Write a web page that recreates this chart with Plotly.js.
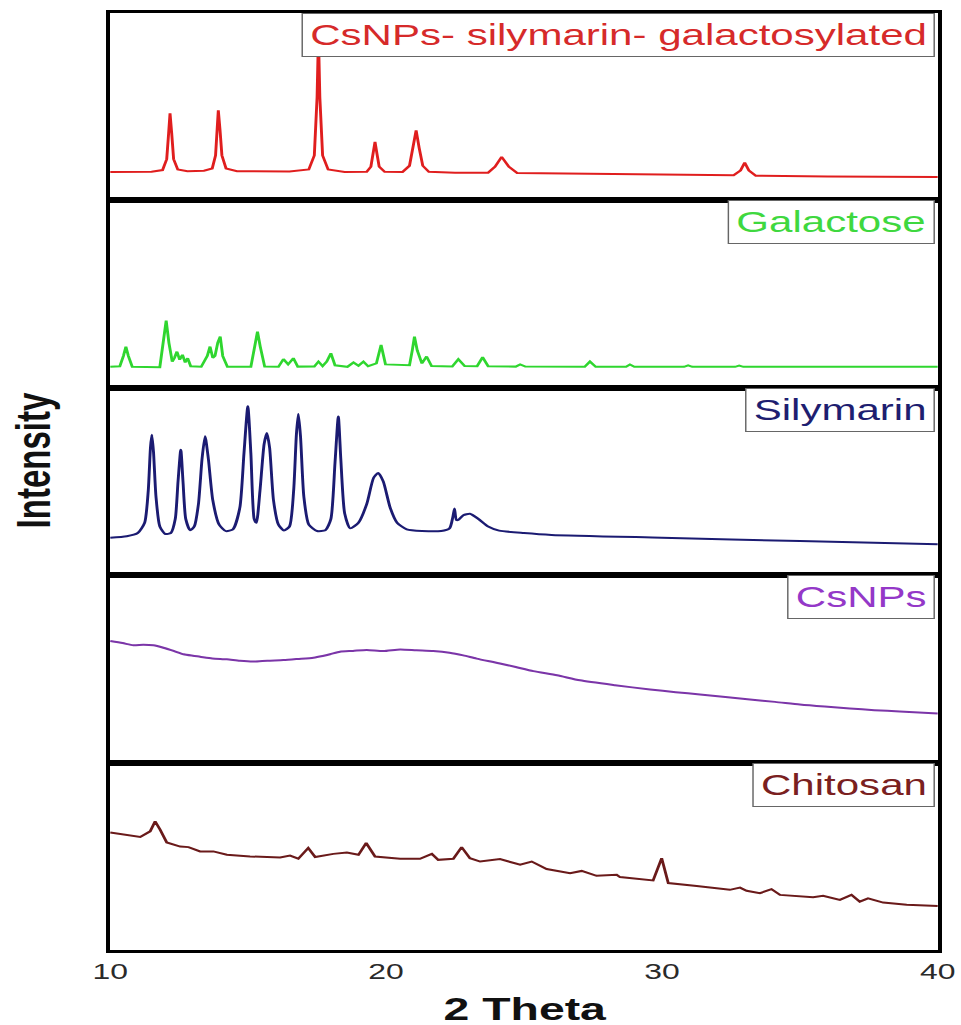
<!DOCTYPE html>
<html>
<head>
<meta charset="utf-8">
<script src="https://cdn.plot.ly/plotly-3.0.1.min.js"></script>
<style>
  html, body { margin: 0; padding: 0; background: #fff; }
  #wrap { width: 961px; height: 1025px; overflow: hidden; }
  #plot { width: 663px; height: 1025px; transform: scaleX(1.4495); transform-origin: 0 0; }
</style>
</head>
<body>
<div id="wrap"><div id="plot"></div></div>
<script>
// Sample names (labels of the panels, top to bottom)
const sampleNames = ["CsNPs- silymarin- galactosylated", "Galactose", "Silymarin", "CsNPs", "Chitosan"];
const tickValues = [10, 20, 30, 40];
const tickLabels = ["10", "20", "30", "40"];

// CsNPs- silymarin- galactosylated (2θ, intensity a.u.)
const galSilX = [10.0, 11.5, 11.9, 12.05, 12.12, 12.17, 12.23, 12.3, 12.45, 12.8, 13.4, 13.7, 13.82, 13.87, 13.92, 13.98, 14.05, 14.2, 14.6, 16.5, 17.2, 17.4, 17.5, 17.55, 17.6, 17.7, 17.9, 18.5, 19.3, 19.45, 19.53, 19.6, 19.67, 19.75, 19.95, 20.6, 20.85, 20.98, 21.09, 21.2, 21.33, 21.55, 22.5, 23.7, 23.95, 24.19, 24.45, 24.75, 27.0, 30.0, 32.6, 32.85, 33.0, 33.15, 33.4, 36.0, 40.0];
const galSilY = [15.1, 15.3, 16.2, 22, 36, 46.5, 36, 22, 16.5, 15.6, 15.8, 17, 24, 38, 48.1, 38, 24, 17, 15.6, 15.4, 16.5, 24, 55, 88, 55, 24, 16.5, 15.2, 15.3, 18, 25, 31.2, 25, 18, 15.3, 15.2, 18.5, 28, 37.4, 28, 18.5, 15.3, 14.8, 14.8, 18, 23.2, 18, 14.6, 14.3, 13.6, 13.4, 16, 20.2, 16, 13.2, 12.8, 12.5];

// Galactose
const galactoseX = [10.0, 10.35, 10.48, 10.57, 10.66, 10.8, 11.8, 11.93, 12.03, 12.13, 12.25, 12.33, 12.42, 12.52, 12.62, 12.72, 12.81, 12.92, 13.3, 13.52, 13.62, 13.72, 13.8, 13.9, 13.99, 14.08, 14.25, 15.1, 15.24, 15.34, 15.44, 15.6, 16.1, 16.28, 16.45, 16.64, 16.8, 17.4, 17.55, 17.7, 17.85, 18.0, 18.15, 18.6, 18.82, 19.0, 19.18, 19.35, 19.65, 19.82, 19.98, 20.85, 20.95, 21.03, 21.13, 21.3, 21.47, 21.65, 22.4, 22.62, 22.85, 23.3, 23.5, 23.7, 24.7, 24.86, 25.05, 27.2, 27.39, 27.6, 28.7, 28.84, 29.0, 30.8, 30.95, 31.1, 32.65, 32.8, 32.95, 36.0, 40.0];
const galactoseY = [11.2, 11.5, 17, 22.0, 17, 11.2, 11.0, 24, 35.8, 24, 14, 16, 19.3, 15, 17.6, 13.5, 15.8, 11.5, 11.2, 17, 22.0, 16, 17, 24, 27.3, 17, 11.2, 11.2, 22, 30.0, 22, 11.3, 11.2, 15.3, 12.5, 15.8, 11.3, 11.4, 14.0, 11.6, 14, 18.4, 12, 11.2, 13.5, 11.8, 14.0, 11.5, 13, 22.9, 12.5, 12, 20, 27.3, 20, 13, 16.7, 11.6, 11.4, 15.3, 11.6, 11.5, 16.3, 11.5, 11.3, 12.5, 11.3, 11.2, 14.0, 11.2, 11.2, 12.4, 11.2, 11.2, 12.0, 11.2, 11.2, 11.8, 11.2, 11.2, 11.2];

// Silymarin
const silymarinX = [10.0, 10.6, 11.0, 11.25, 11.38, 11.46, 11.51, 11.57, 11.66, 11.8, 12.0, 12.2, 12.36, 12.46, 12.56, 12.64, 12.74, 12.9, 13.05, 13.2, 13.33, 13.44, 13.56, 13.72, 13.95, 14.2, 14.45, 14.7, 14.85, 14.99, 15.1, 15.22, 15.3, 15.43, 15.58, 15.68, 15.78, 15.92, 16.1, 16.3, 16.5, 16.65, 16.75, 16.82, 16.9, 17.02, 17.2, 17.5, 17.8, 18.0, 18.15, 18.27, 18.36, 18.5, 18.7, 19.0, 19.3, 19.55, 19.72, 19.9, 20.15, 20.4, 20.75, 21.3, 22.0, 22.3, 22.42, 22.48, 22.55, 22.62, 22.8, 23.04, 23.35, 23.7, 24.1, 25.0, 26.0, 30.0, 35.0, 40.0];
const silymarinY = [20.0, 20.8, 22.5, 28, 45, 68, 75.0, 66, 42, 26, 22, 22.5, 30, 50, 67.0, 50, 30, 24, 26, 38, 62, 74.1, 62, 40, 27, 23.5, 24.5, 36, 65, 90.1, 65, 30, 28, 45, 70, 75.9, 68, 40, 27, 23.9, 26, 45, 75, 86.0, 74, 42, 27, 23.6, 24, 30, 60, 84.7, 62, 33, 25, 28, 38, 52, 54.6, 50, 36, 28, 24.5, 23.6, 23.6, 25, 31, 35.6, 29.5, 29.5, 32, 32.8, 30, 26, 23.8, 22.5, 21.5, 20.0, 18.2, 16.5];

// CsNPs
const csnpsX = [10.0, 10.45, 10.84, 11.2, 11.57, 11.93, 12.3, 12.66, 13.0, 13.26, 13.7, 14.23, 14.7, 15.19, 15.7, 16.28, 16.8, 17.37, 17.7, 17.97, 18.33, 18.8, 19.3, 19.9, 20.51, 21.1, 21.71, 22.3, 22.8, 23.28, 24.13, 24.7, 25.34, 26.2, 27.03, 28.3, 29.57, 30.5, 31.38, 32.3, 33.19, 34.1, 35.0, 35.9, 36.81, 37.7, 38.62, 40.0];
const csnpsY = [64.9, 63.8, 62.6, 62.9, 62.6, 61.3, 59.6, 57.8, 57.0, 56.5, 55.6, 55.1, 54.3, 53.9, 54.4, 54.7, 55.3, 56.0, 56.9, 57.8, 59.2, 59.6, 60.1, 59.5, 60.4, 59.9, 59.5, 58.6, 57.2, 55.5, 52.9, 51.0, 48.8, 46.6, 43.9, 41.3, 39.0, 37.6, 36.4, 35.0, 33.7, 32.4, 31.0, 29.9, 28.9, 28.0, 27.3, 26.2];

// Chitosan
const chitosanX = [10.0, 10.61, 11.09, 11.45, 11.63, 11.81, 12.05, 12.54, 12.84, 13.26, 13.74, 14.23, 15.07, 16.16, 16.52, 16.82, 17.18, 17.43, 18.09, 18.58, 19.0, 19.28, 19.6, 20.51, 21.23, 21.66, 21.89, 22.44, 22.74, 23.04, 23.41, 24.13, 24.86, 25.28, 25.82, 26.67, 27.09, 27.63, 28.36, 28.48, 29.68, 29.99, 30.23, 31.26, 32.46, 32.83, 33.07, 33.55, 33.97, 34.28, 35.48, 35.84, 36.45, 36.87, 37.17, 37.47, 38.02, 38.87, 40.0];
const chitosanY = [62.7, 61.5, 60.3, 63.3, 68.6, 64.2, 57.4, 55.2, 54.9, 52.6, 52.6, 50.8, 49.9, 49.4, 50.4, 48.7, 54.4, 49.6, 51.3, 52.0, 50.8, 57.1, 49.9, 48.7, 48.7, 51.3, 48.1, 48.7, 54.9, 49.0, 47.2, 48.5, 45.5, 47.2, 43.2, 41.0, 42.2, 39.6, 40.1, 38.9, 37.1, 49.0, 35.7, 34.2, 32.1, 33.3, 31.6, 30.3, 32.5, 29.4, 28.2, 28.9, 26.7, 29.4, 25.8, 27.6, 25.3, 24.1, 23.5];

const lineColors = ["#e01e1e", "#2fd62f", "#1b1b72", "#7b35a8", "#6a1a1a"];
const textColors = ["#d62a2a", "#3fd83f", "#1e1e70", "#9438c8", "#7a2020"];
const lineShapes = ["linear", "linear", "spline", "spline", "linear"];

const seriesX = [galSilX, galactoseX, silymarinX, csnpsX, chitosanX];
const seriesY = [galSilY, galactoseY, silymarinY, csnpsY, chitosanY];

const traces = [];
const layout = {
  width: 663, height: 1025,
  margin: {l: 76, r: 16, t: 13, b: 75},
  paper_bgcolor: "#ffffff", plot_bgcolor: "#ffffff",
  showlegend: false,
  font: {family: "Liberation Sans, Arial, sans-serif", color: "#222"},
  annotations: []
};
const nP = 5;
for (let p = 0; p < nP; p++) {
  const ax = nP - p; // 5..1 (top panel = axis 5)
  const suffix = ax === 1 ? "" : String(ax);
  const d0 = (ax - 1) / nP, d1 = ax / nP;
  traces.push({
    type: "scatter", mode: "lines",
    x: seriesX[p], y: seriesY[p],
    xaxis: "x" + suffix, yaxis: "y" + suffix,
    line: {color: lineColors[p], width: 2, shape: lineShapes[p], smoothing: 0.6},
    hoverinfo: "skip"
  });
  layout["xaxis" + suffix] = {
    domain: [0, 1], anchor: "y" + suffix,
    range: [10, 40], showgrid: false, zeroline: false,
    showline: true, mirror: true, linecolor: "#000", linewidth: 3,
    ticks: "", tickvals: tickValues, ticktext: tickLabels,
    showticklabels: ax === 1,
    tickfont: {size: 22, color: "#2a2a2a", family: "Liberation Sans, Arial, sans-serif"}
  };
  if (ax !== 1) layout["xaxis" + suffix].matches = "x";
  layout["yaxis" + suffix] = {
    domain: [d0, d1], anchor: "x" + suffix,
    range: [0, 100], showgrid: false, zeroline: false,
    showline: true, mirror: true, linecolor: "#000", linewidth: 3,
    ticks: "", showticklabels: false
  };
  layout.annotations.push({
    xref: "paper", yref: "paper", x: 0.9965, y: d1,
    xanchor: "right", yanchor: "top",
    text: sampleNames[p], showarrow: false,
    font: {size: 29, color: textColors[p], family: "Liberation Sans, Arial, sans-serif"},
    bgcolor: "#ffffff", bordercolor: "#666", borderwidth: 1, borderpad: 5
  });
}
layout.annotations.push({
  xref: "paper", yref: "paper", x: 0.5, y: -0.0625, xanchor: "center", yanchor: "middle",
  text: "<b>2 Theta</b>", showarrow: false,
  font: {size: 32, color: "#111", family: "Liberation Sans, Arial, sans-serif"}
});
layout.annotations.push({
  xref: "paper", yref: "paper", x: -0.092, y: 0.523, xanchor: "center", yanchor: "middle",
  text: "<b>Intensity</b>", textangle: -90, showarrow: false,
  font: {size: 33, color: "#111", family: "Liberation Sans, Arial, sans-serif"}
});

Plotly.newPlot("plot", traces, layout, {displayModeBar: false, staticPlot: true});
</script>
</body>
</html>
